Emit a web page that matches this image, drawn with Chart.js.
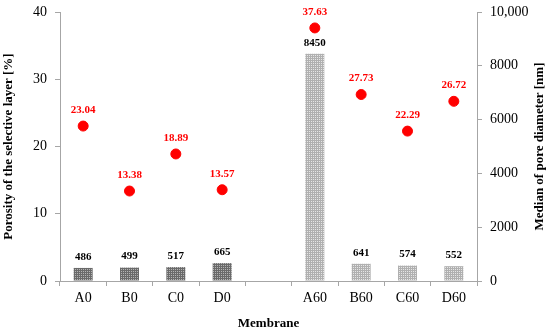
<!DOCTYPE html>
<html>
<head>
<meta charset="utf-8">
<script src="https://cdn.jsdelivr.net/npm/chart.js@4.4.1/dist/chart.umd.min.js"></script>
<style>
	html, body { margin: 0; padding: 0; background: #fff; }
	#wrap { width: 550px; height: 331px; }
</style>
</head>
<body>
<div id="wrap"><canvas id="poreChart"></canvas></div>
<script>
const membranes = ["A0", "B0", "C0", "D0", "", "A60", "B60", "C60", "D60"];
const poreDiameter = [486, 499, 517, 665, null, 8450, 641, 574, 552];
const porosity = [23.04, 13.38, 18.89, 13.57, null, 37.63, 27.73, 22.29, 26.72];
const porosityTicks = [0, 10, 20, 30, 40];
const diameterTicks = [0, 2000, 4000, 6000, 8000, 10000];

const serif = "'Liberation Serif', 'Times New Roman', serif";
const axisGray = "#a6a6a6";

// small dotted tile, like the hatch fills in the original figure
function dotted(base, dot) {
	const tile = document.createElement("canvas");
	tile.width = 2;
	tile.height = 2;
	const t = tile.getContext("2d");
	t.fillStyle = base;
	t.fillRect(0, 0, 2, 2);
	t.fillStyle = dot;
	t.fillRect(1, 1, 1, 1);
	return t.createPattern(tile, "repeat");
}

const ctx = document.getElementById("poreChart").getContext("2d");
const darkFill = dotted("#6a6a6a", "#b4b4b4");
const lightFill = dotted("#b0b0b0", "#e6e6e6");
const barFills = membranes.map((m) => (m.endsWith("60") ? lightFill : darkFill));

const valueLabels = {
	id: "valueLabels",
	afterDatasetsDraw(chart) {
		const c = chart.ctx;
		c.save();
		c.textAlign = "center";
		c.textBaseline = "middle";
		c.font = "bold 11px " + serif;
		chart.getDatasetMeta(0).data.forEach((bar, i) => {
			if (poreDiameter[i] == null) return;
			c.fillStyle = "#000";
			c.fillText(String(poreDiameter[i]), bar.x, bar.y - 11);
		});
		chart.getDatasetMeta(1).data.forEach((pt, i) => {
			if (porosity[i] == null) return;
			c.fillStyle = "#ff0000";
			c.fillText(porosity[i].toFixed(2), pt.x, pt.y - 16);
		});
		c.restore();
	},
	afterDraw(chart) {
		const c = chart.ctx;
		const area = chart.chartArea;
		const midY = (area.top + area.bottom) / 2;
		c.save();
		c.font = "bold 13px " + serif;
		c.fillStyle = "#000";
		c.textAlign = "center";
		c.textBaseline = "middle";
		c.translate(9, midY);
		c.rotate(-Math.PI / 2);
		c.fillText("Porosity of the selective layer [%]", 0, 0);
		c.restore();
		c.save();
		c.font = "bold 13px " + serif;
		c.fillStyle = "#000";
		c.textAlign = "center";
		c.textBaseline = "middle";
		c.translate(540, midY);
		c.rotate(-Math.PI / 2);
		c.fillText("Median of pore diameter [nm]", 0, 0);
		c.restore();
	},
};

new Chart(ctx, {
	data: {
		labels: membranes,
		datasets: [
			{
				type: "bar",
				label: "Median of pore diameter",
				data: poreDiameter,
				yAxisID: "y1",
				backgroundColor: barFills,
				borderWidth: 0,
				barPercentage: 0.41,
				categoryPercentage: 1,
				order: 2,
			},
			{
				type: "line",
				label: "Porosity",
				data: porosity,
				yAxisID: "y",
				showLine: false,
				pointRadius: 5,
				pointHoverRadius: 5,
				pointBackgroundColor: "#ff0000",
				pointBorderColor: "#ff0000",
				order: 1,
			},
		],
	},
	options: {
		responsive: true,
		maintainAspectRatio: false,
		animation: false,
		layout: { padding: { top: 12, left: 0, right: 0, bottom: 0 } },
		plugins: { legend: { display: false }, tooltip: { enabled: false } },
		scales: {
			x: {
				offset: true,
				grid: { offset: true, drawOnChartArea: false, tickLength: 5, color: axisGray },
				border: { color: axisGray },
				ticks: { color: "#000", padding: 4, font: { family: serif, size: 14 } },
				title: {
					display: true,
					text: "Membrane",
					color: "#000",
					padding: { top: 3, bottom: 0 },
					font: { family: serif, size: 13, weight: "bold" },
				},
				afterFit(scale) {
					scale.height = 50;
					scale.paddingLeft = 0;
					scale.paddingRight = 0;
				},
			},
			y: {
				position: "left",
				min: 0,
				max: 40,
				afterBuildTicks(scale) { scale.ticks = porosityTicks.map((v) => ({ value: v })); },
				grid: { drawOnChartArea: false, tickLength: 5, color: axisGray },
				border: { color: axisGray },
				ticks: { color: "#000", padding: 8, font: { family: serif, size: 14 } },
				afterFit(scale) {
					scale.width = 60;
					scale.paddingTop = 0;
					scale.paddingBottom = 0;
				},
			},
			y1: {
				position: "right",
				min: 0,
				max: 10000,
				afterBuildTicks(scale) { scale.ticks = diameterTicks.map((v) => ({ value: v })); },
				grid: { drawOnChartArea: false, tickLength: 5, color: axisGray },
				border: { color: axisGray },
				ticks: {
					color: "#000",
					padding: 8,
					font: { family: serif, size: 14 },
					callback: (v) => (v >= 10000 ? v.toLocaleString("en-US") : String(v)),
				},
				afterFit(scale) {
					scale.width = 73;
					scale.paddingTop = 0;
					scale.paddingBottom = 0;
				},
			},
		},
	},
	plugins: [valueLabels],
});
</script>
</body>
</html>
